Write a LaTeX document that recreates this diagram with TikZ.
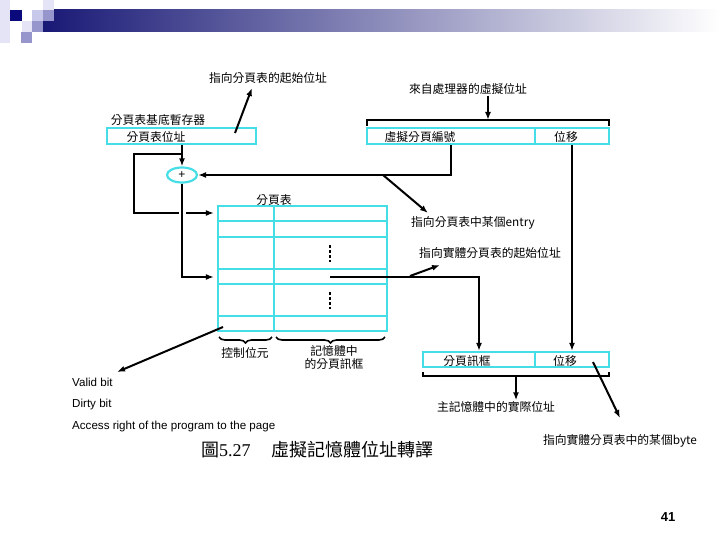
\documentclass[tikz,border=0pt]{standalone}
\usepackage{fontspec}
\setmainfont{Liberation Sans}
\newfontfamily\cjk{Noto Sans CJK TC}
\newfontfamily\capserif{Liberation Serif}
\usetikzlibrary{shapes.geometric, arrows.meta, positioning, calc, decorations.pathreplacing}
\definecolor{boxcyan}{RGB}{70, 222, 230}
\definecolor{navy1}{RGB}{25, 25, 118}
\definecolor{sqdark}{RGB}{10, 10, 125}
\definecolor{sqmid}{RGB}{150, 150, 205}
\definecolor{sqlight}{RGB}{200, 200, 235}
\definecolor{sqpale}{RGB}{228, 228, 246}

\begin{document}
\begin{tikzpicture}[x=1pt, y=-1pt,
  cbox/.style={draw=boxcyan, line width=2.2pt, minimum height=16pt, inner sep=0pt},
  grid/.style={draw=boxcyan, line width=2.2pt},
  lbl/.style={font=\cjk\fontsize{11.8}{13}\selectfont, inner sep=1pt},
  en/.style={font=\fontsize{11.6}{13}\selectfont, anchor=west, inner sep=0pt},
  line/.style={line width=2pt},
  arrow/.style={-{Latex[length=8pt, width=6pt]}, line width=2pt},
  brace/.style={decorate, decoration={brace, mirror, amplitude=6pt}, line width=1.6pt},
]
  \useasboundingbox (0,0) rectangle (720,540);

  % Banner
  \shade[left color=navy1, right color=white] (43,10) rectangle (720,32);
  \fill[sqpale] (0,0) rectangle (10,43);
  \fill[sqdark] (10,10) rectangle (22,21);
  \fill[sqpale] (22,21) rectangle (32,32);
  \fill[sqmid] (21,32) rectangle (32,43);
  \fill[sqlight] (32,10) rectangle (43,21);
  \fill[sqmid] (43,10) rectangle (54,21);
  \fill[sqpale] (43,0) rectangle (54,10);
  \fill[sqmid] (32,21) rectangle (43,32);

  % Boxes
  \node[cbox, minimum width=149pt] (reg) at (181.5,136) {};
  \node[cbox, minimum width=168pt] (vpn) at (451,136) {};
  \node[cbox, minimum width=74pt] (voff) at (572,136) {};
  \node[cbox, minimum width=112pt, minimum height=15pt] (pfn) at (479,359.5) {};
  \node[cbox, minimum width=74pt, minimum height=15pt] (poff) at (572,359.5) {};
  \node[draw=boxcyan, line width=2.2pt, ellipse, minimum width=30pt, minimum height=15pt, inner sep=0pt, font=\fontsize{12}{12}\selectfont] (plus) at (182,175) {+};

  % Page table
  \node[cbox, minimum width=169pt, minimum height=125pt] (ptab) at (302.5,268.5) {};
  \foreach \y in {221, 237, 269, 284, 316}
    \draw[grid] (218,\y) -- (387,\y);
  \draw[grid] (274,206) -- (274,331);
  \foreach \y in {246.5, 251.5, 256.5, 261, 293.5, 298.5, 303.5, 308}
    \fill (328.8,\y-1.1) rectangle (331.2,\y+1.1);

  % Labels
  \node[lbl] (ptstart) at (268,78) {指向分頁表的起始位址};
  \node[lbl] (vaddr) at (468,89) {來自處理器的虛擬位址};
  \node[lbl] (regname) at (158,120) {分頁表基底暫存器};
  \node[lbl] (reglbl) at (156,137) {分頁表位址};
  \node[lbl] (vpnlbl) at (420,137) {虛擬分頁編號};
  \node[lbl] (vofflbl) at (566,137) {位移};
  \node[lbl] (ptname) at (274,200) {分頁表};
  \node[lbl] (entry) at (473,223) {指向分頁表中某個entry};
  \node[lbl] (pbase) at (490,253) {指向實體分頁表的起始位址};
  \node[lbl] (ctrl) at (245,353) {控制位元};
  \node[lbl, align=center] (frame) at (334,358) {記憶體中\\的分頁訊框};
  \node[lbl] (pfnlbl) at (467,361) {分頁訊框};
  \node[lbl] (pofflbl) at (565,361) {位移};
  \node[lbl] (paddr) at (496,407) {主記憶體中的實際位址};
  \node[lbl] (byte) at (620,441) {指向實體分頁表中的某個byte};
  \node[en] (valid) at (72,382) {Valid bit};
  \node[en] (dirty) at (72,404) {Dirty bit};
  \node[en] (access) at (72,426) {Access right of the program to the page};
  \node[anchor=west, inner sep=0pt, font=\cjk\fontsize{18}{20}\selectfont] (caption) at (201,450) {圖{\capserif 5.27}\hspace{21pt}虛擬記憶體位址轉譯};
  \node[font=\bfseries\fontsize{13}{14}\selectfont] (pagenum) at (668,517) {41};

  % Free ends
  \coordinate (ptsA) at (235,133);
  \coordinate (ptsB) at (252,88);
  \coordinate (vtop) at (488,120);
  \coordinate (vbl) at (367,126);
  \coordinate (vbr) at (609,126);
  \coordinate (br) at (182,154);
  \coordinate (loopL) at (134,213);
  \coordinate (hopL) at (179,213);
  \coordinate (hopR) at (186,213);
  \coordinate (dA) at (383,175);
  \coordinate (dB) at (428,213);
  \coordinate (fA) at (330,277);
  \coordinate (pbA) at (410,276);
  \coordinate (pbB) at (440,265);
  \coordinate (pbl) at (423,372);
  \coordinate (pmid) at (516,376);
  \coordinate (pbr) at (609,372);
  \coordinate (byA) at (593,362);
  \coordinate (byB) at (620,418);
  \coordinate (vbA) at (223,327);
  \coordinate (vbB) at (117,372);

  % Arrows
  \draw[arrow] (ptsA) -- (ptsB);
  \draw[line] (vbl) |- (vtop) -| (vbr);
  \draw[arrow] (vaddr.south -| vtop) -- (vtop);
  \draw[arrow] (plus.north |- reg.south) -- (plus.north);
  \draw[line] (br) -| (loopL) -- (hopL);
  \draw[arrow, shorten >=3pt] (hopR) -- (hopR -| ptab.west);
  \draw[arrow, shorten >=3pt] (plus.south) |- (ptab.west |- fA);
  \draw[arrow] (vpn.south) |- (plus.east);
  \draw[arrow] (dA) -- (dB);
  \draw[arrow] (fA) -| (pfn.north);
  \draw[arrow] (pbA) -- (pbB);
  \draw[arrow] (voff.south) -- (poff.north);
  \draw[line] (pbl) |- (pmid) -| (pbr);
  \draw[arrow] (pmid) -- (pmid |- paddr.north);
  \draw[arrow] (byA) -- (byB);
  \draw[arrow] (vbA) -- (vbB);

  % Braces
  \draw[brace] (219,337) -- (272,337);
  \draw[brace] (276,337) -- (385,337);
\end{tikzpicture}
\end{document}
